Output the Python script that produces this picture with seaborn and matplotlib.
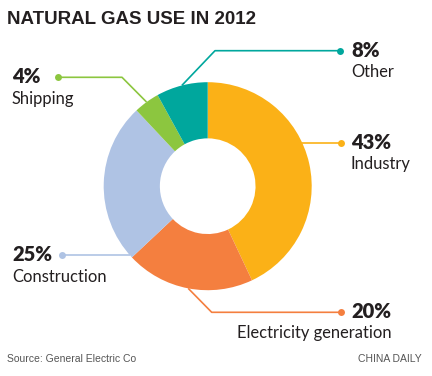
import numpy as np
import matplotlib.pyplot as plt
import seaborn as sns

categories = ['Industry', 'Electricity generation', 'Construction', 'Shipping', 'Other']
shares = [43, 20, 25, 4, 8]
colors = ['#FBB117', '#F47F3F', '#AFC3E4', '#8CC63F', '#00A79D']

# label layout in pixels from top-left: dot position, side, leader style
layout = {
    'Industry': dict(dot=(341, 142.7), side='right', elbow=None),
    'Electricity generation': dict(dot=(340.5, 312.3), side='right', elbow=211.7),
    'Construction': dict(dot=(62, 255), side='left', elbow=None),
    'Shipping': dict(dot=(58, 77.3), side='left', elbow=122),
    'Other': dict(dot=(340, 50.7), side='right', elbow=215),
}

sns.set_theme(style='white')
plt.rcParams['font.family'] = ['Lato', 'DejaVu Sans']
ink = '#231F20'

W, H = 432, 376
fig = plt.figure(figsize=(W / 100, H / 100), dpi=100)
ax = fig.add_axes([0, 0, 1, 1])
cx, cy, R = 207.7, H - 186.2, 104
wedges, _ = ax.pie(shares, colors=sns.color_palette(colors), startangle=90,
                   counterclock=False, radius=R, center=(cx, cy),
                   wedgeprops=dict(width=R * 0.54, linewidth=0))
ax.set_xlim(0, W)
ax.set_ylim(0, H)
ax.set_aspect('equal')
ax.axis('off')

for w, name, val, col in zip(wedges, categories, shares, colors):
    lay = layout[name]
    dx, dy = lay['dot'][0], H - lay['dot'][1]
    if lay['elbow'] is None:
        # horizontal leader meeting the outer edge
        sgn = 1 if lay['side'] == 'right' else -1
        ax_ = cx + sgn * np.sqrt(R ** 2 - (dy - cy) ** 2)
        xs, ys = [ax_, dx], [dy, dy]
    else:
        th = np.deg2rad((w.theta1 + w.theta2) / 2)
        px, py = cx + R * np.cos(th), cy + R * np.sin(th)
        xs, ys = [px, lay['elbow'], dx], [py, dy, dy]
    ax.plot(xs, ys, color=col, lw=1.2, solid_capstyle='butt')
    ax.plot(dx, dy, 'o', color=col, ms=5, mec='none')

    pct = f'{val}%'
    if lay['side'] == 'right':
        ax.text(351, dy - 6, pct, fontsize=14.5, fontweight='heavy', color=ink,
                ha='left', va='baseline')
        if name == 'Electricity generation':
            ax.text(392, dy - 26, name, fontsize=11.9, color=ink, ha='right', va='baseline')
        else:
            ax.text(351, dy - 26.3, name, fontsize=11.9, color=ink, ha='left', va='baseline')
    else:
        ax.text(12, dy - 5.6, pct, fontsize=14.5, fontweight='heavy', color=ink,
                ha='left', va='baseline')
        ax.text(12, dy - 27, name, fontsize=11.9, color=ink, ha='left', va='baseline')

fig.text(7 / W, 1 - 19.5 / H, 'NATURAL GAS USE IN 2012', fontsize=13.5, fontweight='bold',
         family=['Liberation Sans', 'DejaVu Sans'], color=ink, ha='left', va='center')
fig.text(7 / W, 1 - 359 / H, 'Source: General Electric Co', fontsize=7.5, color='#555555',
         family=['Liberation Sans', 'DejaVu Sans'], ha='left', va='center')
fig.text(422 / W, 1 - 359 / H, 'CHINA DAILY', fontsize=7.5, color='#555555',
         family=['Liberation Sans', 'DejaVu Sans'], ha='right', va='center')

fig.savefig('out.png', dpi=100, facecolor='white')
